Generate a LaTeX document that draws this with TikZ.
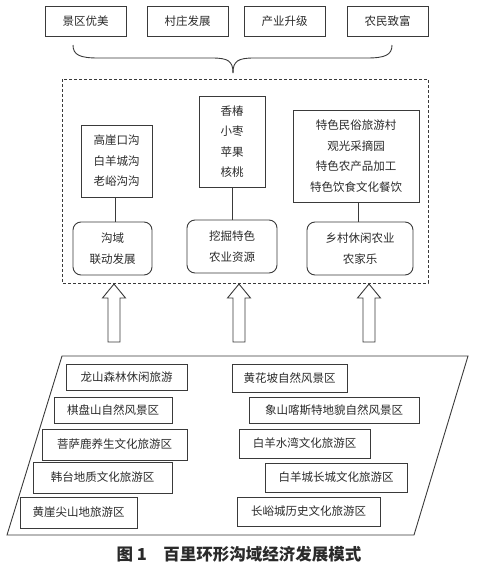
\documentclass[tikz,border=0pt]{standalone}
\usepackage{fontspec}
\newfontfamily\cjk{Noto Sans CJK SC}
\definecolor{ln}{HTML}{3A3A3A}
\definecolor{tx}{HTML}{2A2A2A}
\begin{document}
\begin{tikzpicture}[x=1pt,y=-1pt,
  every node/.style={inner sep=0pt,outer sep=0pt,text=tx,align=center,font=\cjk\fontsize{11.5}{20.5}\selectfont},
  bx/.style={draw=ln,line width=0.9pt},
  rbx/.style={draw=ln,line width=0.9pt,rounded corners=8pt},
  link/.style={draw=ln,line width=0.9pt},
  blockarrow/.style={draw=ln,line width=0.9pt,fill=white,line join=miter}]
\useasboundingbox (0,0) rectangle (489,570);
% top boxes
\node[bx,minimum width=81pt,minimum height=30pt] (t1) at (85.5,21) {景区优美};
\node[bx,minimum width=81pt,minimum height=30pt] (t2) at (187.5,21) {村庄发展};
\node[bx,minimum width=81pt,minimum height=30pt] (t3) at (284.5,21) {产业升级};
\node[bx,minimum width=81pt,minimum height=30pt] (t4) at (387.5,21) {农民致富};
% brace
\draw[ln,line width=0.9pt] (73,45) .. controls (73,55) and (80,58) .. (98,58) -- (212,58)
  .. controls (228,58) and (233,61) .. (233,73);
\draw[ln,line width=0.9pt] (392,45) .. controls (392,55) and (385,58) .. (367,58) -- (254,58)
  .. controls (238,58) and (233,61) .. (233,73);
% dashed frame
\draw[ln,line width=0.8pt,dash pattern=on 3pt off 2pt] (62,79) rectangle (428,283);
% inner boxes
\node[bx,minimum width=71pt,minimum height=72pt] (a) at (116.5,161) {高崖口沟\\白羊城沟\\老峪沟沟};
\node[bx,minimum width=66pt,minimum height=91pt] (b) at (232,141.5) {香椿\\小枣\\苹果\\核桃};
\node[bx,minimum width=126pt,minimum height=92pt] (c) at (356,156) {特色民俗旅游村\\观光采摘园\\特色农产品加工\\特色饮食文化餐饮};
\node[rbx,minimum width=79pt,minimum height=53pt] (ap) at (112.5,248.5) {沟域\\联动发展};
\node[rbx,minimum width=90pt,minimum height=53pt] (bp) at (232,246.5) {挖掘特色\\农业资源};
\node[rbx,minimum width=106pt,minimum height=53pt] (cp) at (360,248.5) {乡村休闲农业\\农家乐};
\draw[link] (a.south) ++(-1.5,0) coordinate (a1) -- (a1 |- ap.north);
\draw[link] (b.south) -- (b.south |- bp.north);
\draw[link] (c.south) ++(2,0) coordinate (c1) -- (c1 |- cp.north);
% block arrows
\foreach \cx in {114,239,369}{
  \draw[blockarrow] (\cx,284) -- (\cx+11.5,298) -- (\cx+6,298) -- (\cx+6,342) -- (\cx-6,342) -- (\cx-6,298) -- (\cx-11.5,298) -- cycle;
}
% parallelogram
\draw[ln,line width=0.9pt] (62,356) -- (468,356) -- (414,535) -- (7,535) -- cycle;
% bottom boxes
\node[bx,minimum width=121pt,minimum height=26pt] (l1) at (126.5,377) {龙山森林休闲旅游};
\node[bx,minimum width=118pt,minimum height=26pt] (l2) at (113,410) {棋盘山自然风景区};
\node[bx,minimum width=145pt,minimum height=31pt] (l3) at (114.5,444.5) {菩萨鹿养生文化旅游区};
\node[bx,minimum width=139pt,minimum height=31pt] (l4) at (102.5,477.5) {韩台地质文化旅游区};
\node[bx,minimum width=117pt,minimum height=31pt] (l5) at (78.5,512.5) {黄崖尖山地旅游区};
\node[bx,minimum width=115pt,minimum height=28pt] (r1) at (289.5,378) {黄花坡自然风景区};
\node[bx,minimum width=170pt,minimum height=26pt] (r2) at (334,410) {象山喀斯特地貌自然风景区};
\node[bx,minimum width=131pt,minimum height=29pt] (r3) at (304.5,443.5) {白羊水湾文化旅游区};
\node[bx,minimum width=142pt,minimum height=29pt] (r4) at (336,477.5) {白羊城长城文化旅游区};
\node[bx,minimum width=143pt,minimum height=29pt] (r5) at (308.5,511.5) {长峪城历史文化旅游区};
% caption
\node[font=\cjk\bfseries\fontsize{16.5}{20}\selectfont] (cap) at (239,554) {图 1\hspace{1em}百里环形沟域经济发展模式};
\end{tikzpicture}
\end{document}
